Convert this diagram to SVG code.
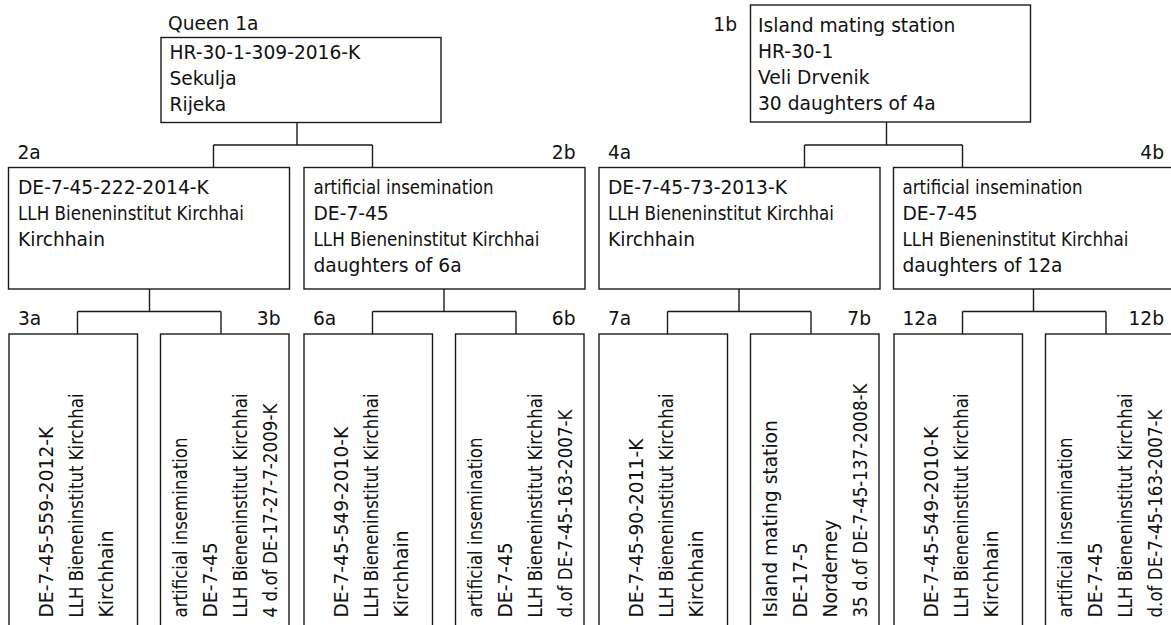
<svg xmlns="http://www.w3.org/2000/svg" width="1171" height="625" viewBox="0 0 1171 625">
<style>
rect.n{fill:#fff;stroke:#1a1a1a;stroke-width:1.4}
.c{fill:none;stroke:#1a1a1a;stroke-width:1.4}
text{font-family:"DejaVu Sans","Verdana",sans-serif;font-size:18.67px;fill:#111}
.e{text-anchor:end}
</style>
<rect width="1171" height="625" fill="#fff"/>
<g id="connectors">
<path class="c" d="M297,122.5V145M213.5,145H372.5M213.5,145V167.5M372.5,145V167.5"/>
<path class="c" d="M886.5,122V145M804.5,145H962.5M804.5,145V167.5M962.5,145V167.5"/>
<path class="c" d="M149.5,289V311.5M77.5,311.5H221M77.5,311.5V334M221,311.5V334"/>
<path class="c" d="M444,289V311.5M372.5,311.5H516M372.5,311.5V334M516,311.5V334"/>
<path class="c" d="M739,289V311.5M667.5,311.5H811M667.5,311.5V334M811,311.5V334"/>
<path class="c" d="M1033.5,289V311.5M962.5,311.5H1106M962.5,311.5V334M1106,311.5V334"/>
</g>
<g id="n1a">
<text x="168" y="29.5">Queen 1a</text>
<rect class="n" x="161" y="37.5" width="280" height="85"/>
<text x="169.5" y="59">HR-30-1-309-2016-K</text>
<text x="169.5" y="85">Sekulja</text>
<text x="169.5" y="111">Rijeka</text>
</g>
<g id="n1b">
<text class="e" x="737" y="30.5">1b</text>
<rect class="n" x="750.5" y="5" width="280" height="117"/>
<text x="758" y="31.5">Island mating station</text>
<text x="758" y="57.5">HR-30-1</text>
<text x="758" y="83.5">Veli Drvenik</text>
<text x="758" y="109.5">30 daughters of 4a</text>
</g>
<g id="n2a">
<text x="17.5" y="159">2a</text>
<rect class="n" x="8.5" y="167.5" width="281" height="121.5"/>
<text x="18" y="193.5">DE-7-45-222-2014-K</text>
<text x="18" y="219.5" textLength="226" lengthAdjust="spacingAndGlyphs">LLH Bieneninstitut Kirchhai</text>
<text x="18" y="245.5">Kirchhain</text>
</g>
<g id="n2b">
<text class="e" x="575.5" y="159">2b</text>
<rect class="n" x="304" y="167.5" width="281" height="121.5"/>
<text x="313.5" y="193.5" textLength="180" lengthAdjust="spacingAndGlyphs">artificial insemination</text>
<text x="313.5" y="219.5">DE-7-45</text>
<text x="313.5" y="245.5" textLength="226" lengthAdjust="spacingAndGlyphs">LLH Bieneninstitut Kirchhai</text>
<text x="313.5" y="271.5">daughters of 6a</text>
</g>
<g id="n4a">
<text x="608" y="159">4a</text>
<rect class="n" x="599" y="167.5" width="281" height="121.5"/>
<text x="608" y="193.5">DE-7-45-73-2013-K</text>
<text x="608" y="219.5" textLength="226" lengthAdjust="spacingAndGlyphs">LLH Bieneninstitut Kirchhai</text>
<text x="608" y="245.5">Kirchhain</text>
</g>
<g id="n4b">
<text class="e" x="1164" y="159">4b</text>
<rect class="n" x="893.5" y="167.5" width="281" height="121.5"/>
<text x="902.5" y="193.5" textLength="180" lengthAdjust="spacingAndGlyphs">artificial insemination</text>
<text x="902.5" y="219.5">DE-7-45</text>
<text x="902.5" y="245.5" textLength="226" lengthAdjust="spacingAndGlyphs">LLH Bieneninstitut Kirchhai</text>
<text x="902.5" y="271.5">daughters of 12a</text>
</g>
<g id="n3a">
<text x="18" y="325">3a</text>
<rect class="n" x="9" y="334" width="128.5" height="310"/>
<text transform="translate(53.3,617.5) rotate(-90)">DE-7-45-559-2012-K</text>
<text transform="translate(83.3,617.5) rotate(-90)" textLength="224" lengthAdjust="spacingAndGlyphs">LLH Bieneninstitut Kirchhai</text>
<text transform="translate(113.3,617.5) rotate(-90)">Kirchhain</text>
</g>
<g id="n3b">
<text class="e" x="280.5" y="325">3b</text>
<rect class="n" x="160.5" y="334" width="128.5" height="310"/>
<text transform="translate(186.7,617.5) rotate(-90)" textLength="180" lengthAdjust="spacingAndGlyphs">artificial insemination</text>
<text transform="translate(216.7,617.5) rotate(-90)">DE-7-45</text>
<text transform="translate(246.7,617.5) rotate(-90)" textLength="224" lengthAdjust="spacingAndGlyphs">LLH Bieneninstitut Kirchhai</text>
<text transform="translate(276.7,617.5) rotate(-90)" textLength="214" lengthAdjust="spacingAndGlyphs">4 d.of DE-17-27-7-2009-K</text>
</g>
<g id="n6a">
<text x="313" y="325">6a</text>
<rect class="n" x="304" y="334" width="128.5" height="310"/>
<text transform="translate(348.3,617.5) rotate(-90)">DE-7-45-549-2010-K</text>
<text transform="translate(378.3,617.5) rotate(-90)" textLength="224" lengthAdjust="spacingAndGlyphs">LLH Bieneninstitut Kirchhai</text>
<text transform="translate(408.3,617.5) rotate(-90)">Kirchhain</text>
</g>
<g id="n6b">
<text class="e" x="575.5" y="325">6b</text>
<rect class="n" x="455.5" y="334" width="128.5" height="310"/>
<text transform="translate(482,617.5) rotate(-90)" textLength="180" lengthAdjust="spacingAndGlyphs">artificial insemination</text>
<text transform="translate(512,617.5) rotate(-90)">DE-7-45</text>
<text transform="translate(542,617.5) rotate(-90)" textLength="224" lengthAdjust="spacingAndGlyphs">LLH Bieneninstitut Kirchhai</text>
<text transform="translate(572,617.5) rotate(-90)" textLength="208" lengthAdjust="spacingAndGlyphs">d.of DE-7-45-163-2007-K</text>
</g>
<g id="n7a">
<text x="608" y="325">7a</text>
<rect class="n" x="599" y="334" width="128.5" height="310"/>
<text transform="translate(643.3,617.5) rotate(-90)">DE-7-45-90-2011-K</text>
<text transform="translate(673.3,617.5) rotate(-90)" textLength="224" lengthAdjust="spacingAndGlyphs">LLH Bieneninstitut Kirchhai</text>
<text transform="translate(703.3,617.5) rotate(-90)">Kirchhain</text>
</g>
<g id="n7b">
<text class="e" x="871" y="325">7b</text>
<rect class="n" x="750.5" y="334" width="128.5" height="310"/>
<text transform="translate(776.7,617.5) rotate(-90)">Island mating station</text>
<text transform="translate(806.7,617.5) rotate(-90)">DE-17-5</text>
<text transform="translate(836.7,617.5) rotate(-90)">Norderney</text>
<text transform="translate(866.7,617.5) rotate(-90)" textLength="234" lengthAdjust="spacingAndGlyphs">35 d.of DE-7-45-137-2008-K</text>
</g>
<g id="n12a">
<text x="902.5" y="325">12a</text>
<rect class="n" x="894" y="334" width="128.5" height="310"/>
<text transform="translate(938.3,617.5) rotate(-90)">DE-7-45-549-2010-K</text>
<text transform="translate(968.3,617.5) rotate(-90)" textLength="224" lengthAdjust="spacingAndGlyphs">LLH Bieneninstitut Kirchhai</text>
<text transform="translate(998.3,617.5) rotate(-90)">Kirchhain</text>
</g>
<g id="n12b">
<text class="e" x="1164" y="325">12b</text>
<rect class="n" x="1045.5" y="334" width="128.5" height="310"/>
<text transform="translate(1072,617.5) rotate(-90)" textLength="180" lengthAdjust="spacingAndGlyphs">artificial insemination</text>
<text transform="translate(1102,617.5) rotate(-90)">DE-7-45</text>
<text transform="translate(1132,617.5) rotate(-90)" textLength="224" lengthAdjust="spacingAndGlyphs">LLH Bieneninstitut Kirchhai</text>
<text transform="translate(1162,617.5) rotate(-90)" textLength="208" lengthAdjust="spacingAndGlyphs">d.of DE-7-45-163-2007-K</text>
</g>
</svg>
